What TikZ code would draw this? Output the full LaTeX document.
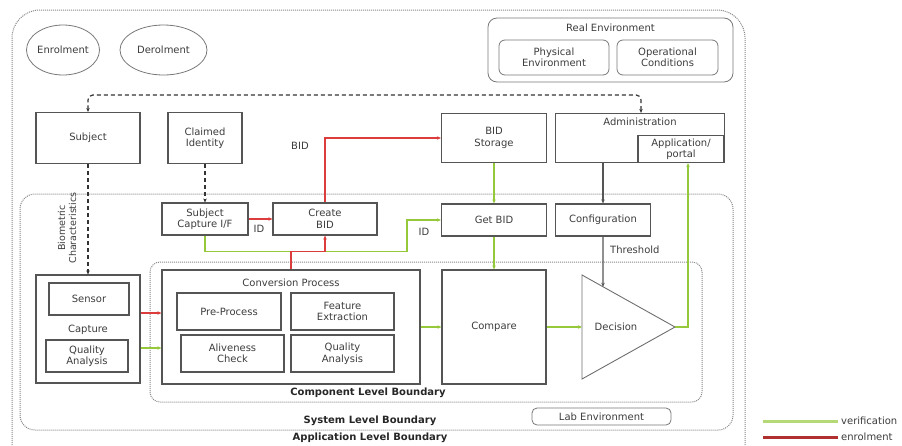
\documentclass[tikz,border=0pt]{standalone}
\usepackage{fontspec}
\setmainfont{DejaVu Sans}
\usetikzlibrary{arrows.meta,shapes.geometric,calc}
\definecolor{vgreen}{RGB}{150,200,60}
\definecolor{ered}{RGB}{220,60,60}
\definecolor{bline}{RGB}{85,85,85}
\definecolor{bnd}{RGB}{135,135,135}
\definecolor{txt}{RGB}{60,60,60}
\begin{document}
\begin{tikzpicture}[x=1pt,y=-1pt,
  font=\fontsize{10}{11.5}\selectfont, text=txt,
  box/.style={draw=bline, line width=1.2pt, align=center, inner sep=0pt},
  envbox/.style={draw=bline!80, line width=0.8pt, rounded corners=6pt, align=center, inner sep=0pt},
  oval/.style={draw=bline!80, line width=0.8pt, ellipse, inner sep=0pt},
  bndline/.style={draw=bnd, densely dotted, line width=1pt},
  bndlabel/.style={font=\fontsize{10}{12}\selectfont\bfseries, text=black!85},
  tip/.style={-{Stealth[length=4pt,width=3.5pt]}},
  dtip/.style={{Stealth[length=4pt,width=3.5pt]}-{Stealth[length=4pt,width=3.5pt]}},
  gline/.style={draw=vgreen, line width=1.4pt},
  rline/.style={draw=ered, line width=1.4pt},
  kline/.style={draw=bline, line width=1.4pt},
  kdash/.style={draw=black!80, line width=1.2pt, dash pattern=on 4pt off 3pt},
  lbl/.style={inner sep=1pt}
]
\useasboundingbox (0,0) rectangle (902,445);

% boundaries
\draw[bndline, rounded corners=28pt] (12,10) rectangle (745,475);
\draw[bndline, rounded corners=15pt] (20,194) rectangle (733,430);
\draw[bndline, rounded corners=10pt] (150,262) rectangle (702,402);
\node[bndlabel] (complbl) at (368,393) {Component Level Boundary};
\node[bndlabel] (syslbl) at (370,421) {System Level Boundary};
\node[bndlabel] (applbl) at (370,438) {Application Level Boundary};

% top-left ovals
\node[oval, minimum width=73pt, minimum height=50pt] (enrol) at (63,50) {Enrolment};
\node[oval, minimum width=87pt, minimum height=50pt] (derol) at (163.5,50) {Derolment};

% real environment
\draw[draw=bline!80, line width=0.8pt, rounded corners=9pt] (488,18) rectangle (733,82);
\node[lbl] (realenv) at (610.5,28) {Real Environment};
\node[envbox, minimum width=110pt, minimum height=35pt] (phys) at (554,57.5) {Physical\\Environment};
\node[envbox, minimum width=101pt, minimum height=35pt] (oper) at (667.5,57.5) {Operational\\Conditions};

% lab environment
\node[envbox, rounded corners=5pt, minimum width=139pt, minimum height=17pt] (lab) at (601.5,416.5) {Lab Environment};

% row 1
\node[box, minimum width=104pt, minimum height=51pt] (subject) at (88,138) {Subject};
\node[box, minimum width=74pt, minimum height=51pt] (claimed) at (205,138) {Claimed\\Identity};
\node[box, minimum width=105pt, minimum height=49pt] (storage) at (494,138) {BID\\Storage};
\node[box, minimum width=169pt, minimum height=49pt] (admin) at (640,138) {};
\node[lbl] (adminlbl) at (640,122) {Administration};
\node[box, minimum width=86pt, minimum height=27pt, font=\fontsize{10}{10.5}\selectfont] (appl) at (681,149) {Application/\\portal};

% row 2
\node[box, minimum width=86pt, minimum height=32pt] (subjcap) at (205,219) {Subject\\Capture I/F};
\node[box, minimum width=104pt, minimum height=32pt] (create) at (325,219) {Create\\BID};
\node[box, minimum width=105pt, minimum height=32pt] (getbid) at (494,220) {Get BID};
\node[box, minimum width=95pt, minimum height=32pt] (config) at (603,220) {Configuration};

% capture
\node[box, minimum width=104pt, minimum height=108pt] (capture) at (88,329) {};
\node[box, minimum width=80pt, minimum height=32pt] (sensor) at (89,299) {Sensor};
\node[lbl] (capturelbl) at (88,330) {Capture};
\node[box, minimum width=82pt, minimum height=32pt] (qa1) at (87,356) {Quality\\Analysis};

% conversion process
\node[box, minimum width=258pt, minimum height=114pt] (conv) at (291,327) {};
\node[lbl] (convlbl) at (291,283) {Conversion Process};
\node[box, minimum width=104pt, minimum height=37pt] (pre) at (229,311.5) {Pre-Process};
\node[box, minimum width=103pt, minimum height=37pt] (feat) at (342.5,311.5) {Feature\\Extraction};
\node[box, minimum width=103pt, minimum height=37pt] (alive) at (232.5,353.5) {Aliveness\\Check};
\node[box, minimum width=103pt, minimum height=37pt] (qa2) at (342.5,353.5) {Quality\\Analysis};

% compare
\node[box, minimum width=104pt, minimum height=114pt] (compare) at (494,327) {Compare};

% decision triangle
\coordinate (decA) at (582,275);
\coordinate (decTip) at (675,327);
\coordinate (decB) at (582,379);
\draw[draw=bline!85, line width=0.9pt] (decA) -- (decTip) -- (decB) -- cycle;
\coordinate (decTop) at ($(decA)!0.226!(decTip)$);
\coordinate (decL) at (582,327);
\node[lbl] (declbl) at (616,327) {Decision};

% labels
\node[lbl] (bidlbl) at (300,146) {BID};
\node[lbl] (id1) at (259,229) {ID};
\node[lbl] (id2) at (424,232) {ID};
\node[lbl, anchor=west] (thr) at (609,250) {Threshold};
\node[lbl, rotate=90, align=center, font=\fontsize{9.5}{11}\selectfont] (biochar) at (67,228) {Biometric\\Characteristics};

% dashed black connectors
\draw[kdash, dtip, rounded corners=5pt] (subject.north) -- ++(0,-17) -| ([xshift=1pt]admin.north);
\draw[kdash, tip] (subject.south) -- (capture.north);
\draw[kdash, tip] (claimed.south) -- (subjcap.north);

% black solid
\draw[kline, tip] (config.north |- admin.south) -- (config.north);
\draw[kline, tip] (config.south) -- (decTop);

% green (verification)
\draw[gline, tip] (subjcap.south) -- ++(0,16) -- ++(202,0) |- (getbid.west);
\draw[gline, tip] (storage.south) -- (getbid.north);
\draw[gline, tip] (getbid.south) -- (compare.north);
\draw[gline, tip] ([yshift=-19pt]capture.east) -- ([yshift=-19pt]capture.east -| conv.west);
\draw[gline, tip] (conv.east) -- (compare.west);
\draw[gline, tip] (compare.east) -- (decL);
\coordinate (gR) at (688,327);
\draw[gline, tip] (decTip) -- (gR) -- (gR |- appl.south);

% red (enrolment)
\draw[rline, tip] (subjcap.east) -- (create.west);
\draw[rline, tip] (create.north) |- (storage.west);
\draw[rline, tip] (conv.north) -- ++(0,-18) -| (create.south);
\draw[rline, tip] ([yshift=16pt]capture.east) -- ([yshift=16pt]capture.east -| conv.west);

% legend
\coordinate (lg1) at (763,421);
\coordinate (lg2) at (838,421);
\coordinate (lr1) at (763,437);
\coordinate (lr2) at (838,437);
\draw[draw=vgreen!70, line width=3pt] (lg1) -- (lg2);
\draw[draw=ered!80!black, line width=3pt] (lr1) -- (lr2);
\node[lbl, anchor=west] (verif) at (840,421) {verification};
\node[lbl, anchor=west] (enrl) at (840,437) {enrolment};
\end{tikzpicture}
\end{document}
